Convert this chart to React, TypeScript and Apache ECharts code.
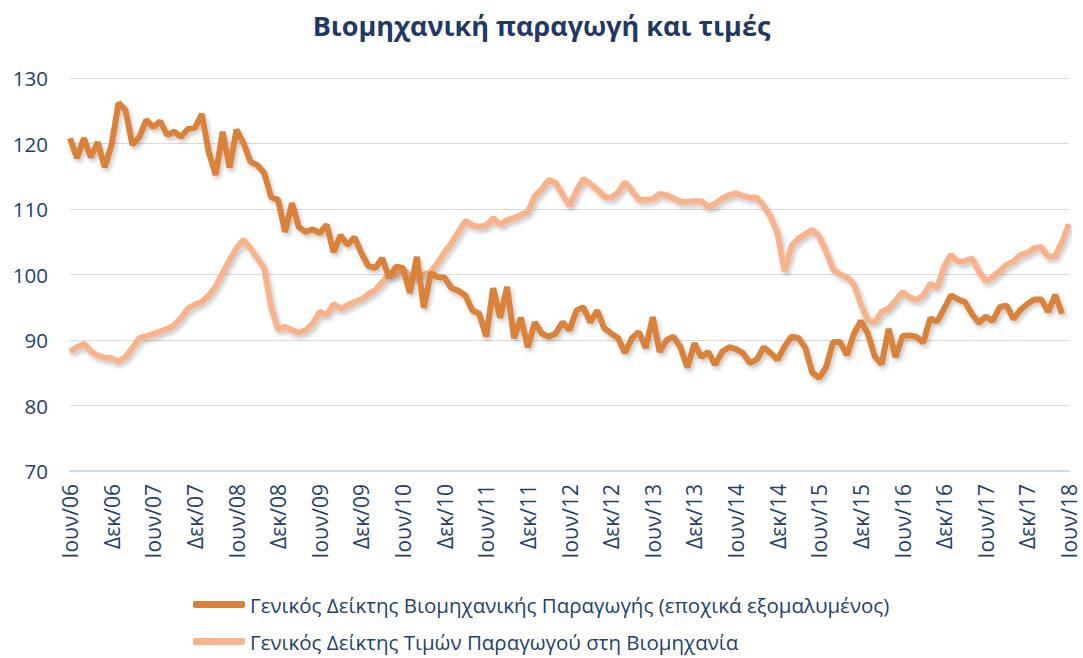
import React, { useEffect, useRef } from "react";
import * as echarts from "echarts";

const monthNames = ["Ιαν", "Φεβ", "Μαρ", "Απρ", "Μαϊ", "Ιουν", "Ιουλ", "Αυγ", "Σεπ", "Οκτ", "Νοε", "Δεκ"];
const startYear = 2006;
const startMonth = 5; // Ιουν

const seriesNames = [
  "Γενικός Δείκτης Βιομηχανικής Παραγωγής (εποχικά εξομαλυμένος)",
  "Γενικός Δείκτης Τιμών Παραγωγού στη Βιομηχανία",
];

// General Industrial Production Index (seasonally adjusted), Jun/06 .. May/18
const industrialProduction = [
  120.8, 117.8, 120.8, 117.9, 120.2, 116.4, 119.8, 126.2, 125.1, 119.8, 121, 123.6, 122.5, 123.4, 121.3, 121.8,
  121, 122.2, 122.4, 124.5, 118.7, 115.2, 121.8, 116.3, 122.1, 120.1, 117.2, 116.7, 115.5,
  111.8, 111.4, 106.5, 110.9, 107.2, 106.5, 106.9, 106.3, 107.6, 103.4, 106, 104.5, 105.7, 103.3, 101.3, 101,
  102.5, 99.5, 101.2, 101, 97.2, 102.7, 94.9, 100.2, 99.6, 99.5, 97.9, 97.5, 96.8,
  94.5, 94, 90.5, 97.9, 93.4, 98.1, 90.3, 93.4, 88.9, 92.7, 91, 90.5, 91, 92.7, 91.5, 94.5, 95, 92.7, 94.5,
  91.8, 91, 90.3, 88, 90.3, 91.2, 88.8, 93.5, 88.2,
  90, 90.5, 88.9, 85.8, 89.5, 87.4, 88.2, 86.2, 88.2, 88.9, 88.6, 88, 86.5, 87, 88.9, 88, 87, 89, 90.5, 90.3,
  88.8, 85, 84.2, 85.9, 89.7, 89.7, 87.7, 91,
  92.9, 91, 87.5, 86.3, 91.7, 87.4, 90.6, 90.7, 90.5, 89.6, 93.3, 92.8, 94.8, 96.8, 96.2, 95.8, 94, 92.6, 93.6,
  92.9, 95, 95.3, 93.2, 94.6, 95.5, 96.2, 96.2, 94.3, 96.9, 94,
];

// General Producer Price Index in Industry, Jun/06 .. Jun/18
const producerPrices = [
  88.2, 88.9, 89.4, 88.3, 87.6, 87.3, 87.2, 86.7, 87.4, 88.8, 90.3, 90.6, 90.9, 91.3, 91.7, 92.2, 93.4, 94.8,
  95.4, 95.8, 96.8, 98.2, 100.2, 102.2, 104, 105.3, 104, 102.5, 101, 95, 91.6,
  92, 91.5, 91.1, 91.5, 92.5, 94.3, 93.8, 95.5, 94.7, 95.3, 95.8, 96.2, 97, 97.6, 98.8, 100.2, 99.8, 100.8,
  99.7, 99.8, 100, 100.4, 101.8, 103.4, 104.8, 106.5,
  108.2, 107.5, 107.3, 107.5, 108.6, 107.6, 108.3, 108.6, 109.1, 109.5, 112, 113, 114.4, 114, 112.2, 110.5,
  112.8, 114.6, 113.8, 113, 111.9, 111.7, 112.5, 114.1, 112.8, 111.4, 111.4, 111.5,
  112.3, 112.1, 111.6, 111.1, 111.1, 111.2, 111.2, 110.3, 110.8, 111.6, 112.1, 112.4, 112, 111.7, 111.7,
  110.5, 108.8, 106.3, 100.5, 104.3, 105.5, 106.2, 106.8, 105.8, 103.5, 100.8, 100, 99.6, 98.5, 95.5, 93,
  92.7, 94.3, 94.8, 96, 97.3, 96.5, 96.1, 96.8, 98.6, 98, 101.2, 103, 102, 102, 102.5, 100.5, 99, 99.6,
  100.5, 101.5, 102, 103, 103.3, 104, 104.2, 102.7, 102.8, 105, 107.7,
];

const categories = producerPrices.map((_, i) => {
  const m = startMonth + i;
  const year = startYear + Math.floor(m / 12);
  return `${monthNames[m % 12]}/${String(year % 100).padStart(2, "0")}`;
});

const textColor = "#1f3f6e";
const font = "'Open Sans', 'Noto Sans', sans-serif";

export default function App() {
  const ref = useRef<HTMLDivElement>(null);

  useEffect(() => {
    if (!ref.current) return;
    const chart = echarts.init(ref.current, undefined, { renderer: "svg" });
    const shadow = {
      shadowColor: "rgba(0,0,0,0.22)",
      shadowBlur: 4,
      shadowOffsetX: 2,
      shadowOffsetY: 3,
    };
    chart.setOption({
      animation: false,
      backgroundColor: "#ffffff",
      title: {
        text: "Βιομηχανική παραγωγή και τιμές",
        left: "center",
        top: 7,
        textStyle: { color: "#1f3864", fontSize: 27, fontWeight: "bold", fontFamily: font },
      },
      grid: { left: 70, right: 14, top: 78, bottom: 187, containLabel: false },
      xAxis: {
        type: "category",
        data: categories,
        boundaryGap: false,
        axisLine: { lineStyle: { color: "#c9dbf1", width: 2 } },
        axisTick: { show: false },
        axisLabel: {
          interval: 5,
          rotate: 90,
          margin: 13,
          color: textColor,
          fontSize: 21,
          fontFamily: font,
        },
        splitLine: { show: false },
      },
      yAxis: {
        type: "value",
        min: 70,
        max: 130,
        interval: 10,
        axisLine: { show: false },
        axisTick: { show: false },
        axisLabel: { color: textColor, fontSize: 20.5, fontFamily: font, margin: 22 },
        splitLine: { lineStyle: { color: "#d9d9d9", width: 1 } },
      },
      legend: {
        orient: "vertical",
        left: 188,
        top: 589,
        itemWidth: 52,
        itemHeight: 7,
        itemGap: 16,
        icon: "roundRect",
        textStyle: { color: textColor, fontSize: 20.5, fontFamily: font },
        data: seriesNames,
      },
      series: [
        {
          name: seriesNames[0],
          type: "line",
          data: industrialProduction,
          showSymbol: false,
          symbol: "none",
          color: "#d9823b",
          lineStyle: { color: "#d9823b", width: 6, ...shadow },
          z: 3,
        },
        {
          name: seriesNames[1],
          type: "line",
          data: producerPrices,
          showSymbol: false,
          symbol: "none",
          color: "#f7b48c",
          lineStyle: { color: "#f7b48c", width: 6, ...shadow },
          z: 2,
        },
      ],
    });
    return () => chart.dispose();
  }, []);

  return (
    <div
      ref={ref}
      style={{ position: "fixed", left: 0, top: 0, width: 1083, height: 658 }}
    />
  );
}
